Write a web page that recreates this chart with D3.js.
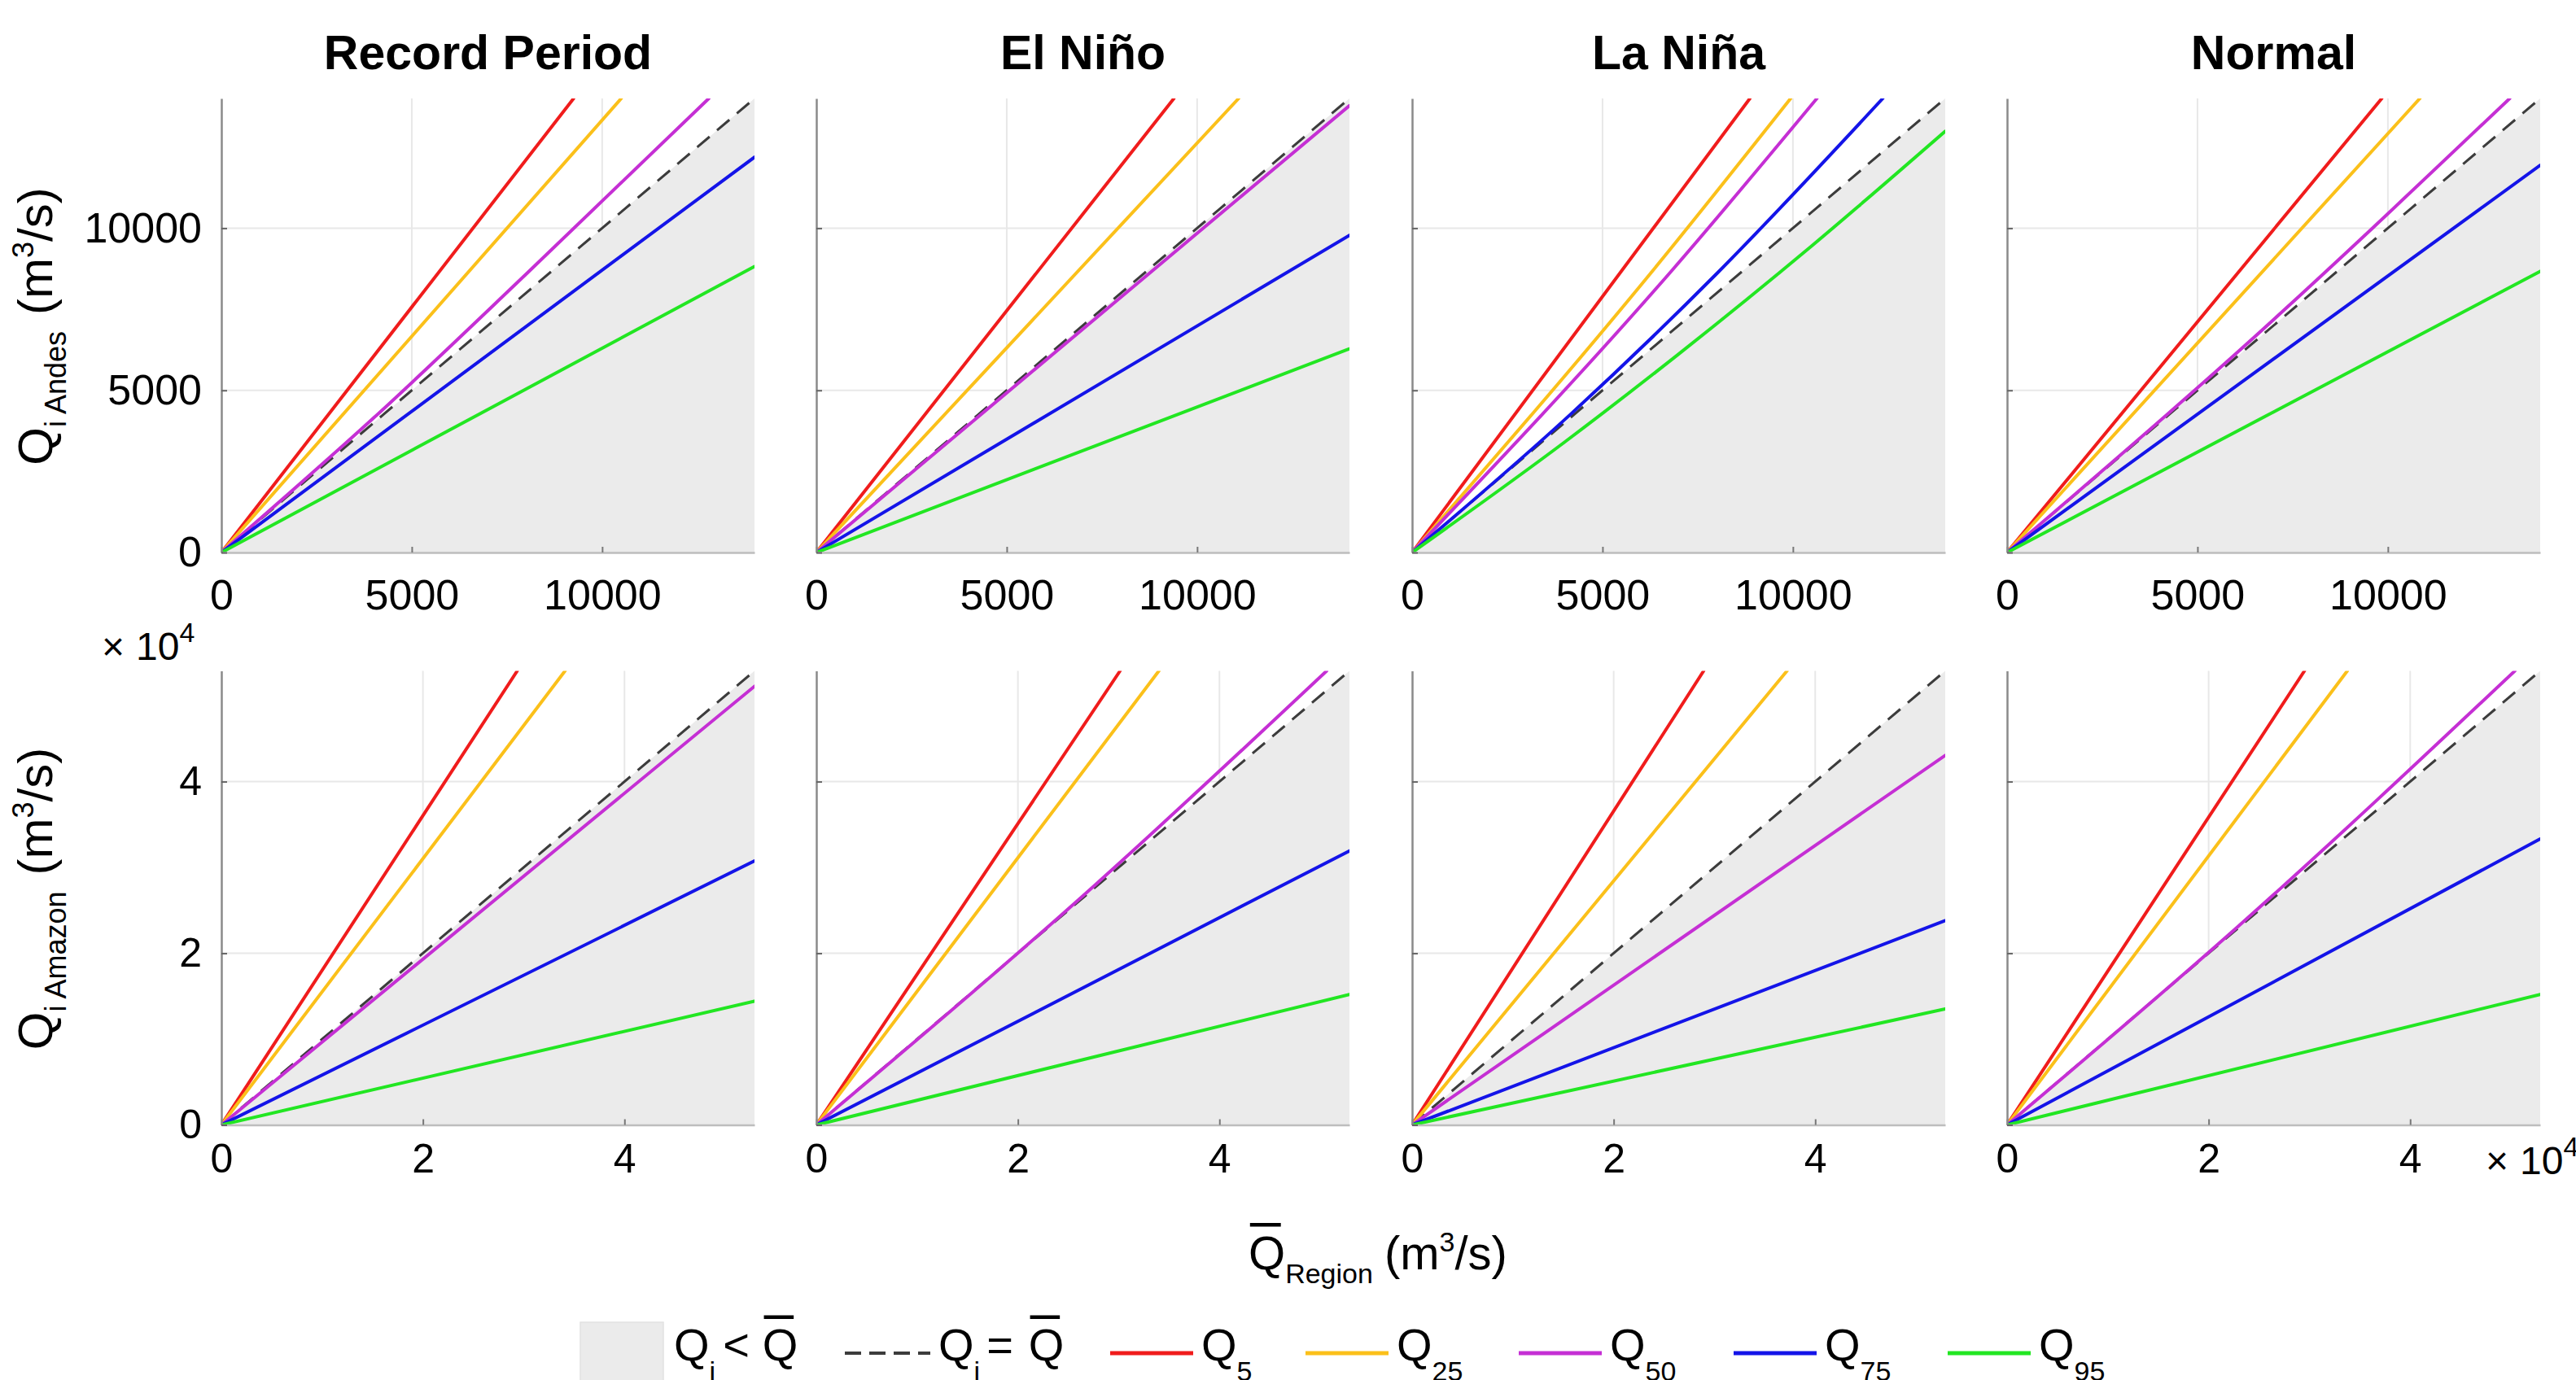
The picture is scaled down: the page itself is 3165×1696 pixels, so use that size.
<!DOCTYPE html>
<html>
<head>
<meta charset="utf-8">
<script src="https://cdn.jsdelivr.net/npm/d3@7"></script>
<style>
  body { margin: 0; background: #fff; }
  svg { display: block; }
  text { font-family: "Liberation Sans", Arial, Helvetica, sans-serif; fill: #000; }
</style>
</head>
<body>
<svg id="fig" width="3165" height="1696"></svg>
<script>
// ---- data -------------------------------------------------------------
const periods = ["Record Period", "El Niño", "La Niña", "Normal"];
const regions = ["Andes", "Amazon"];
const quantiles = ["5", "25", "50", "75", "95"];
const quantileColors = ["#f01c1c", "#fbc01a", "#c52fd4", "#1414e8", "#22e622"];

const andesMax = 14000;
const amazonMax = 52900;
const andesTicks = [0, 5000, 10000];
const andesTickLabels = ["0", "5000", "10000"];
const amazonTicks = [0, 20000, 40000];
const amazonTickLabels = ["0", "2", "4"];

// Quantile curves Q_i against mean regional discharge, one list of [Qmean, Qi] points per quantile
const andesRecordPeriod = [
  [[0, 0], [9250, 14000]],
  [[0, 0], [10500, 14000]],
  [[0, 0], [4000, 4150], [8000, 8580], [12800, 14000]],
  [[0, 0], [14000, 12190]],
  [[0, 0], [14000, 8820]]
];
const andesElNino = [
  [[0, 0], [9390, 14000]],
  [[0, 0], [11090, 14000]],
  [[0, 0], [14000, 13780]],
  [[0, 0], [14000, 9780]],
  [[0, 0], [14000, 6280]]
];
const andesLaNina = [
  [[0, 0], [8870, 14000]],
  [[0, 0], [6340, 8720], [9940, 14000]],
  [[0, 0], [6840, 8720], [10630, 14000]],
  [[0, 0], [4150, 4250], [8000, 8600], [12360, 14000]],
  [[0, 0], [4000, 3400], [7000, 6120], [10500, 9460], [14000, 12990]]
];
const andesNormal = [
  [[0, 0], [9840, 14000]],
  [[0, 0], [10840, 14000]],
  [[0, 0], [6000, 6120], [13200, 14000]],
  [[0, 0], [14000, 11940]],
  [[0, 0], [14000, 8670]]
];
const amazonRecordPeriod = [
  [[0, 0], [29360, 52900]],
  [[0, 0], [34100, 52900]],
  [[0, 0], [52900, 51100]],
  [[0, 0], [52900, 30750]],
  [[0, 0], [52900, 14420]]
];
const amazonElNino = [
  [[0, 0], [30140, 52900]],
  [[0, 0], [33990, 52900]],
  [[0, 0], [27700, 28000], [50640, 52900]],
  [[0, 0], [52900, 31930]],
  [[0, 0], [52900, 15200]]
];
const amazonLaNina = [
  [[0, 0], [28930, 52900]],
  [[0, 0], [37200, 52900]],
  [[0, 0], [52900, 43060]],
  [[0, 0], [52900, 23800]],
  [[0, 0], [52900, 13510]]
];
const amazonNormal = [
  [[0, 0], [29510, 52900]],
  [[0, 0], [33760, 52900]],
  [[0, 0], [23000, 23200], [50390, 52900]],
  [[0, 0], [52900, 33320]],
  [[0, 0], [52900, 15200]]
];

// ---- layout -----------------------------------------------------------
const svg = d3.select("#fig");
svg.append("rect").attr("width", 3165).attr("height", 1696).attr("fill", "#fff");

const colLeft = [272, 1003, 1735, 2466];
const panelW = 655;
const rowTop = [121, 824.5];
const panelH = 558;

const rowSpec = [
  { max: andesMax, ticks: andesTicks, labels: andesTickLabels, fs: 52, pad: 33,
    data: [andesRecordPeriod, andesElNino, andesLaNina, andesNormal] },
  { max: amazonMax, ticks: amazonTicks, labels: amazonTickLabels, fs: 50, pad: 23,
    data: [amazonRecordPeriod, amazonElNino, amazonLaNina, amazonNormal] }
];

// Text built from pieces (subscripts, superscripts, overbars) laid out left to right
function rich(parent, parts, anchor) {
  const g = parent.append("g");
  let cx = 0;
  const items = [];
  parts.forEach(p => {
    cx += p.gap || 0;
    const t = g.append("text")
      .attr("x", cx).attr("y", p.dy || 0)
      .attr("font-size", p.size)
      .attr("font-weight", p.bold ? "bold" : null)
      .text(p.t);
    const w = t.node().getComputedTextLength();
    items.push({ x: cx, w, p });
    cx += w;
  });
  items.forEach(it => {
    if (it.p.bar) {
      const yb = (it.p.dy || 0) - it.p.size * 0.72 - 13;
      g.append("line")
        .attr("x1", it.x + it.w * 0.04).attr("x2", it.x + it.w * 0.88)
        .attr("y1", yb).attr("y2", yb)
        .attr("stroke", "#000").attr("stroke-width", 4.5);
    }
  });
  const shift = anchor === "middle" ? -cx / 2 : anchor === "end" ? -cx : 0;
  items.length && g.selectAll("*").attr("transform", `translate(${shift},0)`);
  return g;
}

const line = d3.line().curve(d3.curveMonotoneX);

rowSpec.forEach((row, r) => {
  const x = d3.scaleLinear().domain([0, row.max]).range([0, panelW]);
  const y = d3.scaleLinear().domain([0, row.max]).range([panelH, 0]);
  line.x(d => x(d[0])).y(d => y(d[1]));

  periods.forEach((period, c) => {
    const g = svg.append("g").attr("transform", `translate(${colLeft[c]},${rowTop[r]})`);
    const clipId = `clip-${r}-${c}`;
    g.append("clipPath").attr("id", clipId)
      .append("rect").attr("width", panelW).attr("height", panelH);

    // grid
    g.append("g").selectAll("line.gx").data(row.ticks.slice(1)).join("line")
      .attr("x1", d => x(d)).attr("x2", d => x(d))
      .attr("y1", 0).attr("y2", panelH)
      .attr("stroke", "#e8e8e8").attr("stroke-width", 2);
    g.append("g").selectAll("line.gy").data(row.ticks.slice(1)).join("line")
      .attr("x1", 0).attr("x2", panelW)
      .attr("y1", d => y(d)).attr("y2", d => y(d))
      .attr("stroke", "#e8e8e8").attr("stroke-width", 2);

    // region where Q_i < mean
    g.append("path")
      .attr("d", d3.line().x(d => x(d[0])).y(d => y(d[1]))([[0, 0], [row.max, row.max], [row.max, 0]]) + "Z")
      .attr("fill", "#ebebeb");

    const plot = g.append("g").attr("clip-path", `url(#${clipId})`);

    // 1:1 line
    plot.append("path")
      .attr("d", d3.line().x(d => x(d[0])).y(d => y(d[1]))([[0, 0], [row.max, row.max]]))
      .attr("fill", "none").attr("stroke", "#3c3c3c")
      .attr("stroke-width", 3).attr("stroke-dasharray", "20,12");

    // quantile curves
    plot.selectAll("path.q").data(row.data[c]).join("path")
      .attr("class", "q")
      .attr("d", d => line(d))
      .attr("fill", "none")
      .attr("stroke", (d, i) => quantileColors[i])
      .attr("stroke-width", 4)
      .attr("stroke-linecap", "round");

    // axes
    const ax = d3.axisBottom(x).tickValues(row.ticks).tickSize(-7).tickSizeOuter(0)
      .tickPadding(row.pad).tickFormat((d, i) => row.labels[i]);
    const gx = g.append("g").attr("transform", `translate(0,${panelH})`).call(ax);
    gx.select(".domain").attr("stroke", "#bdbdbd").attr("stroke-width", 2.5);
    gx.selectAll(".tick line").attr("stroke", "#777").attr("stroke-width", 2);
    gx.selectAll("text").attr("font-size", row.fs).attr("fill", "#000");

    const ay = d3.axisLeft(y).tickValues(row.ticks).tickSize(-7).tickSizeOuter(0)
      .tickPadding(24).tickFormat((d, i) => c === 0 ? row.labels[i] : "");
    const gy = g.append("g").call(ay);
    gy.select(".domain").attr("stroke", "#8a8a8a").attr("stroke-width", 2.5);
    gy.selectAll(".tick line").attr("stroke", "#666").attr("stroke-width", 2);
    gy.selectAll("text").attr("font-size", row.fs).attr("fill", "#000");
    gx.attr("font-family", null); gy.attr("font-family", null);

    if (r === 0) {
      g.append("text")
        .attr("x", panelW / 2).attr("y", 85 - rowTop[0])
        .attr("text-anchor", "middle")
        .attr("font-size", 59).attr("font-weight", "bold")
        .text(period);
    }
  });
});

// y axis titles
regions.forEach((reg, r) => {
  const cy = rowTop[r] + panelH / 2 + 1;
  const g = svg.append("g").attr("transform", `translate(64,${cy}) rotate(-90)`);
  rich(g, [
    { t: "Q", size: 60 },
    { t: "i " + reg, size: 36, dy: 17 },
    { t: "(m", size: 60, gap: 20 },
    { t: "3", size: 36, dy: -23 },
    { t: "/s)", size: 60 }
  ], "middle");
});

// exponent labels
function exponent(x0, yb) {
  const g = svg.append("g").attr("transform", `translate(${x0},${yb})`);
  rich(g, [
    { t: "×", size: 48 },
    { t: "10", size: 48, gap: 14 },
    { t: "4", size: 34, dy: -22 }
  ], "start");
}
exponent(125, 811);
exponent(3054, 1443);

// x axis title
{
  const g = svg.append("g").attr("transform", "translate(1534,1560)");
  rich(g, [
    { t: "Q", size: 58, bar: true },
    { t: "Region", size: 34, dy: 17 },
    { t: "(m", size: 58, gap: 14 },
    { t: "3", size: 34, dy: -22 },
    { t: "/s)", size: 58 }
  ], "start");
}

// legend
{
  const ly = 1663;
  const base = 1672;
  svg.append("rect").attr("x", 713).attr("y", 1625).attr("width", 102).attr("height", 120)
    .attr("fill", "#ebebeb").attr("stroke", "#e2e2e2").attr("stroke-width", 1.5);
  rich(svg.append("g").attr("transform", `translate(828,${base})`), [
    { t: "Q", size: 56 },
    { t: "i", size: 34, dy: 25 },
    { t: "<", size: 56, gap: 9 },
    { t: "Q", size: 56, gap: 16, bar: true }
  ], "start");

  svg.append("line").attr("x1", 1038).attr("x2", 1143).attr("y1", ly).attr("y2", ly)
    .attr("stroke", "#3c3c3c").attr("stroke-width", 4).attr("stroke-dasharray", "20,10");
  rich(svg.append("g").attr("transform", `translate(1153,${base})`), [
    { t: "Q", size: 56 },
    { t: "i", size: 34, dy: 25 },
    { t: "=", size: 56, gap: 8 },
    { t: "Q", size: 56, gap: 19, bar: true }
  ], "start");

  const legendLeft = [1364, 1604, 1866, 2130, 2393];
  quantiles.forEach((q, i) => {
    svg.append("line").attr("x1", legendLeft[i]).attr("x2", legendLeft[i] + 102)
      .attr("y1", ly).attr("y2", ly)
      .attr("stroke", quantileColors[i]).attr("stroke-width", 5);
    rich(svg.append("g").attr("transform", `translate(${legendLeft[i] + 112},${base})`), [
      { t: "Q", size: 56 },
      { t: q, size: 34, dy: 25 }
    ], "start");
  });
}
</script>
</body>
</html>
